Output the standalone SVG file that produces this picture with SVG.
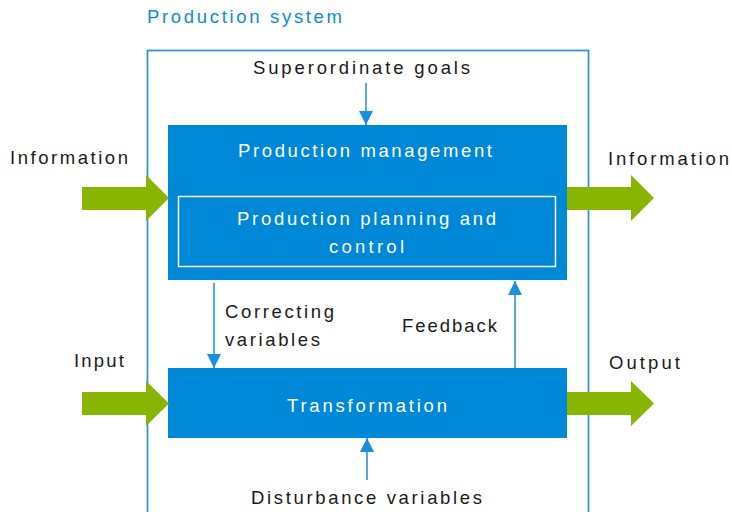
<svg xmlns="http://www.w3.org/2000/svg" width="732" height="512" viewBox="0 0 732 512">
<defs>
<style>
text{font-family:"Liberation Sans","DejaVu Sans",sans-serif;font-size:18.5px;fill:#1a1a1a}
.w{fill:#ffffff}
.b{fill:#0a8ad8}
.box{fill:#0088d8}
.green{fill:#88b500}
.conn{stroke:#1b8fdc;stroke-width:1.5;fill:none}
</style>
<marker id="ah" markerUnits="userSpaceOnUse" markerWidth="14" markerHeight="14" viewBox="0 0 14 14" refX="14" refY="7" orient="auto">
<path d="M0,0 L14,7 L0,14 Z" fill="#1b8fdc"/>
</marker>
</defs>
<rect width="732" height="512" fill="#ffffff"/>
<text class="b" x="147" y="23" textLength="195" lengthAdjust="spacing">Production system</text>
<rect id="frame" x="147.5" y="50.5" width="441" height="470" fill="none" stroke="#2e97dc" stroke-width="1.8"/>

<g id="management">
<rect class="box" x="168" y="125" width="399" height="155"/>
<text class="w" x="238" y="156.5" textLength="254" lengthAdjust="spacing">Production management</text>
</g>
<g id="ppc">
<rect x="178.5" y="196.5" width="377" height="70" fill="none" stroke="#ffffff" stroke-width="1.5"/>
<text class="w" x="366.5" y="225" text-anchor="middle" textLength="259" lengthAdjust="spacing">Production planning and</text>
<text class="w" x="366.5" y="253" text-anchor="middle" textLength="75" lengthAdjust="spacing">control</text>
</g>
<g id="transformation">
<rect class="box" x="168" y="368" width="399" height="70"/>
<text class="w" x="287" y="412" textLength="160" lengthAdjust="spacing">Transformation</text>
</g>

<g id="arrows-green">
<polygon class="green" points="82,187 146,187 146,175 169,198 146,221 146,210 82,210"/>
<polygon class="green" points="567,187 631,187 631,175 654,198 631,221 631,210 567,210"/>
<polygon class="green" points="82,392 146,392 146,381 169,403.5 146,426 146,415 82,415"/>
<polygon class="green" points="567,392 631,392 631,381 654,403.5 631,426 631,415 567,415"/>
</g>

<g id="connectors">
<line class="conn" x1="366" y1="83" x2="366" y2="125" marker-end="url(#ah)"/>
<line class="conn" x1="214" y1="283" x2="214" y2="368" marker-end="url(#ah)"/>
<line class="conn" x1="515" y1="368" x2="515" y2="281" marker-end="url(#ah)"/>
<line class="conn" x1="367" y1="480" x2="367" y2="438" marker-end="url(#ah)"/>
</g>

<g id="labels">
<text x="253" y="73.5" textLength="217" lengthAdjust="spacing">Superordinate goals</text>
<text x="10" y="164" textLength="118" lengthAdjust="spacing">Information</text>
<text x="608" y="165" textLength="121" lengthAdjust="spacing">Information</text>
<text x="225" y="318" textLength="109" lengthAdjust="spacing">Correcting</text>
<text x="225" y="346" textLength="95" lengthAdjust="spacing">variables</text>
<text x="402" y="332" textLength="95" lengthAdjust="spacing">Feedback</text>
<text x="74" y="367" textLength="50" lengthAdjust="spacing">Input</text>
<text x="609" y="369" textLength="71" lengthAdjust="spacing">Output</text>
<text x="251" y="504" textLength="231" lengthAdjust="spacing">Disturbance variables</text>
</g>
</svg>
